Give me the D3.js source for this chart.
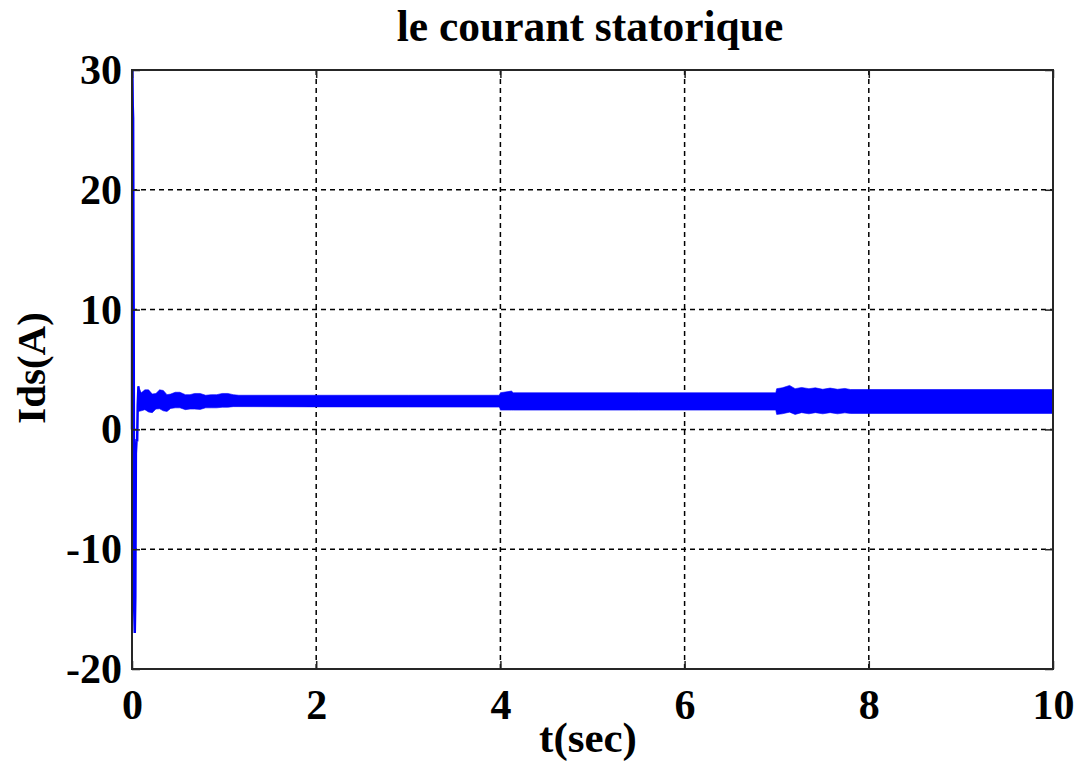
<!DOCTYPE html>
<html lang="fr">
<head>
  <meta charset="UTF-8" />
  <title>le courant statorique</title>
  <style>
    body { margin: 0; background: #fff; }
    svg { display: block; font-family: "Liberation Serif", "Times New Roman", serif; font-weight: bold; }
  </style>
</head>
<body>
  <svg id="chart" width="1078" height="764"></svg>

  <script src="https://d3js.org/d3.v7.min.js"></script>
  <script>
    // start-up transient (t in s, Ids in A)
    const transT = [0, 0.004, 0.008, 0.012, 0.018, 0.024, 0.03, 0.036, 0.042, 0.05, 0.056, 0.062, 0.07];
    const transI = [0, 30, 27, 26, 10, -15, -17, -14, -2, -0.8, -1, 2, 3.6];

    // envelope of the fast oscillation after start-up
    const envT = [0.07, 0.10, 0.14, 0.18, 0.22, 0.26, 0.30, 0.34, 0.38, 0.42, 0.47, 0.52, 0.58, 0.63, 0.68, 0.74,
                  0.80, 0.86, 0.92, 0.98, 1.04, 1.10, 1.16, 2.00, 3.00, 3.99, 4.00, 4.12, 4.14, 5.50, 6.99,
                  7.00, 7.06, 7.14, 7.20, 7.27, 7.35, 7.42, 7.50, 7.58, 7.66, 7.74, 7.80, 10.0];
    const envHi = [3.6, 3.05, 3.3, 3.3, 2.95, 3.0, 3.3, 3.25, 2.9, 2.95, 3.1, 3.1, 2.9, 2.9, 3.0, 3.0,
                   2.85, 2.9, 2.9, 3.0, 3.0, 2.9, 2.85, 2.85, 2.85, 2.85, 3.06, 3.2, 3.06, 3.06, 3.06,
                   3.4, 3.47, 3.67, 3.4, 3.5, 3.4, 3.47, 3.35, 3.45, 3.35, 3.42, 3.33, 3.33];
    const envLo = [1.5, 1.55, 1.65, 1.45, 1.4, 1.7, 1.72, 1.55, 1.5, 1.75, 1.8, 1.8, 1.65, 1.7, 1.7, 1.67,
                   1.8, 1.8, 1.8, 1.85, 1.85, 1.9, 1.9, 1.88, 1.87, 1.86, 1.61, 1.61, 1.61, 1.61, 1.61,
                   1.25, 1.3, 1.44, 1.25, 1.4, 1.3, 1.4, 1.3, 1.4, 1.3, 1.38, 1.33, 1.33];

    const xTicks = [0, 2, 4, 6, 8, 10];
    const yTicks = [-20, -10, 0, 10, 20, 30];

    const plotL = 132, plotR = 1053, plotT = 70, plotB = 669;
    const svg = d3.select("#chart");

    const x = d3.scaleLinear().domain([0, 10]).range([plotL, plotR]);
    const y = d3.scaleLinear().domain([-20, 30]).range([plotB, plotT]);

    // grid
    const grid = svg.append("g").attr("stroke", "#000").attr("stroke-width", 1.5).attr("stroke-dasharray", "5,4");
    grid.selectAll(".gx").data(xTicks.slice(1, -1)).join("line")
      .attr("x1", d => x(d)).attr("x2", d => x(d)).attr("y1", plotT).attr("y2", plotB);
    grid.selectAll(".gy").data(yTicks.slice(1, -1)).join("line")
      .attr("y1", d => y(d)).attr("y2", d => y(d)).attr("x1", plotL).attr("x2", plotR);

    // signal
    const env = envT.map((t, i) => ({ t, hi: envHi[i], lo: envLo[i] }));
    svg.append("path")
      .datum(env)
      .attr("fill", "#0000ff")
      .attr("stroke", "#0000ff")
      .attr("stroke-width", 0.6)
      .attr("d", d3.area().x(d => x(d.t)).y0(d => y(d.lo)).y1(d => y(d.hi)));

    const trans = transT.map((t, i) => ({ t, v: transI[i] }));
    svg.append("path")
      .datum(trans)
      .attr("fill", "none")
      .attr("stroke", "#0000ff")
      .attr("stroke-width", 2.5)
      .attr("d", d3.line().x(d => x(d.t)).y(d => y(d.v)));

    // axes (ticks inside, box all round)
    const tick = 8;
    const styleAxis = g => {
      g.select(".domain").remove();
      g.selectAll(".tick line").attr("stroke", "#222").attr("stroke-width", 1.5);
    };
    const styleText = g => g.selectAll("text").attr("font-size", 42).attr("fill", "#000")
      .attr("font-family", "Liberation Serif").attr("font-weight", "bold");

    svg.append("g").attr("transform", `translate(0,${plotB})`)
      .call(d3.axisBottom(x).tickValues(xTicks).tickSize(-tick).tickPadding(27).tickFormat(d => String(d)))
      .call(styleAxis)
      .call(styleText)
      .call(g => g.selectAll("text").attr("dy", "0.55em"));
    svg.append("g").attr("transform", `translate(0,${plotT})`)
      .call(d3.axisTop(x).tickValues(xTicks).tickSize(-tick).tickFormat(""))
      .call(styleAxis);
    svg.append("g").attr("transform", `translate(${plotL},0)`)
      .call(d3.axisLeft(y).tickValues(yTicks).tickSize(-tick).tickPadding(10).tickFormat(d => String(d)))
      .call(styleAxis)
      .call(styleText)
      .call(g => g.selectAll("text").attr("dy", "0.32em"));
    svg.append("g").attr("transform", `translate(${plotR},0)`)
      .call(d3.axisRight(y).tickValues(yTicks).tickSize(-tick).tickFormat(""))
      .call(styleAxis);

    svg.append("rect")
      .attr("x", plotL).attr("y", plotT)
      .attr("width", plotR - plotL).attr("height", plotB - plotT)
      .attr("fill", "none").attr("stroke", "#262626").attr("stroke-width", 2);

    // labels
    svg.append("text")
      .attr("x", 590).attr("y", 41)
      .attr("text-anchor", "middle")
      .attr("font-size", 43.5)
      .text("le courant statorique");

    svg.append("text")
      .attr("x", 588).attr("y", 752)
      .attr("text-anchor", "middle")
      .attr("font-size", 43)
      .text("t(sec)");

    svg.append("text")
      .attr("transform", "translate(45,368) rotate(-90)")
      .attr("text-anchor", "middle")
      .attr("font-size", 41)
      .text("Ids(A)");
  </script>
</body>
</html>
